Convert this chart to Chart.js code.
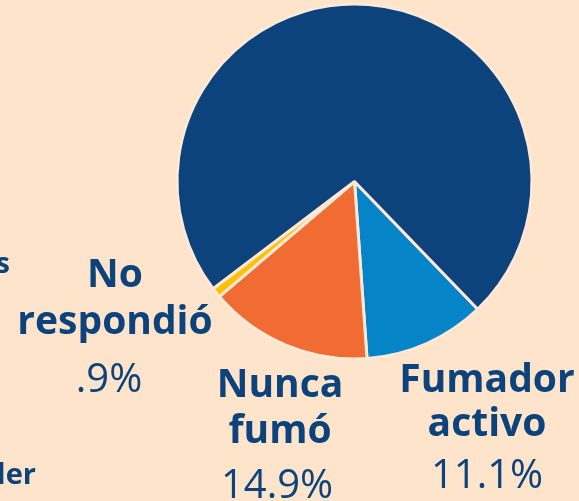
<!DOCTYPE html>
<html>
<head>
<meta charset="utf-8">
<script src="https://cdn.jsdelivr.net/npm/chart.js@4/dist/chart.umd.min.js"></script>
<style>
  html, body { margin: 0; padding: 0; background: #FDE4CB; }
  canvas { display: block; }
</style>
</head>
<body>
<canvas id="c" width="579" height="501"></canvas>
<script>
// ---- data ----
const categories = ["Fumador activo", "Nunca fumó", "No respondió", "Otros"];
const labelLines = [["Fumador", "activo"], ["Nunca", "fumó"], ["No", "respondió"], null];
const values = [11.1, 14.9, 0.9, 73.1];
const colors = ["#0584C8", "#F06C33", "#FFC000", "#0C437C"];
const fragments = ["s", "ler"]; // text cut off at the left edge of the picture

// ---- styling / layout (not data) ----
const BG = "#FDE4CB";
const TEXT = "#0C437C";
const labelPos = [
  { x: 487, px: 487, y: [392, 436, 488] },
  { x: 280, px: 277, y: [397, 443, 498] },
  { x: 115, px: 109, y: [287, 334, 392] },
  null
];
const fragmentPos = [{ x: 10, y: 273 }, { x: 36, y: 484 }];

function fmt(v) {
  let s = v.toFixed(1);
  if (s.startsWith("0.")) s = s.slice(1);
  return s + "%";
}

const textPlugin = {
  id: "labelsText",
  beforeDraw(chart) {
    const ctx = chart.ctx;
    ctx.save();
    ctx.fillStyle = BG;
    ctx.fillRect(0, 0, chart.width, chart.height);
    ctx.restore();
  },
  afterDraw(chart) {
    const ctx = chart.ctx;
    ctx.save();
    ctx.fillStyle = TEXT;
    ctx.textBaseline = "alphabetic";
    ctx.textAlign = "center";
    categories.forEach((cat, i) => {
      const pos = labelPos[i];
      const lines = labelLines[i];
      if (!pos || !lines) return;
      ctx.font = "bold 39px 'Open Sans'";
      lines.forEach((ln, j) => ctx.fillText(ln, pos.x, pos.y[j]));
      ctx.font = "40px 'Open Sans'";
      ctx.fillText(fmt(values[i]), pos.px, pos.y[lines.length]);
    });
    ctx.textAlign = "right";
    ctx.font = "bold 29px 'Open Sans'";
    fragments.forEach((f, i) => ctx.fillText(f, fragmentPos[i].x, fragmentPos[i].y));
    ctx.restore();
  }
};

new Chart(document.getElementById("c"), {
  type: "pie",
  data: {
    labels: categories,
    datasets: [{
      data: values,
      backgroundColor: colors,
      borderColor: "#FFE9D6",
      borderWidth: 3,
      hoverOffset: 0
    }]
  },
  options: {
    responsive: false,
    animation: false,
    rotation: 136,
    radius: 177.5,
    layout: { padding: { left: 175, right: 45, top: 2, bottom: 140 } },
    plugins: {
      legend: { display: false },
      tooltip: { enabled: false },
      title: { display: false }
    }
  },
  plugins: [textPlugin]
});
</script>
</body>
</html>
